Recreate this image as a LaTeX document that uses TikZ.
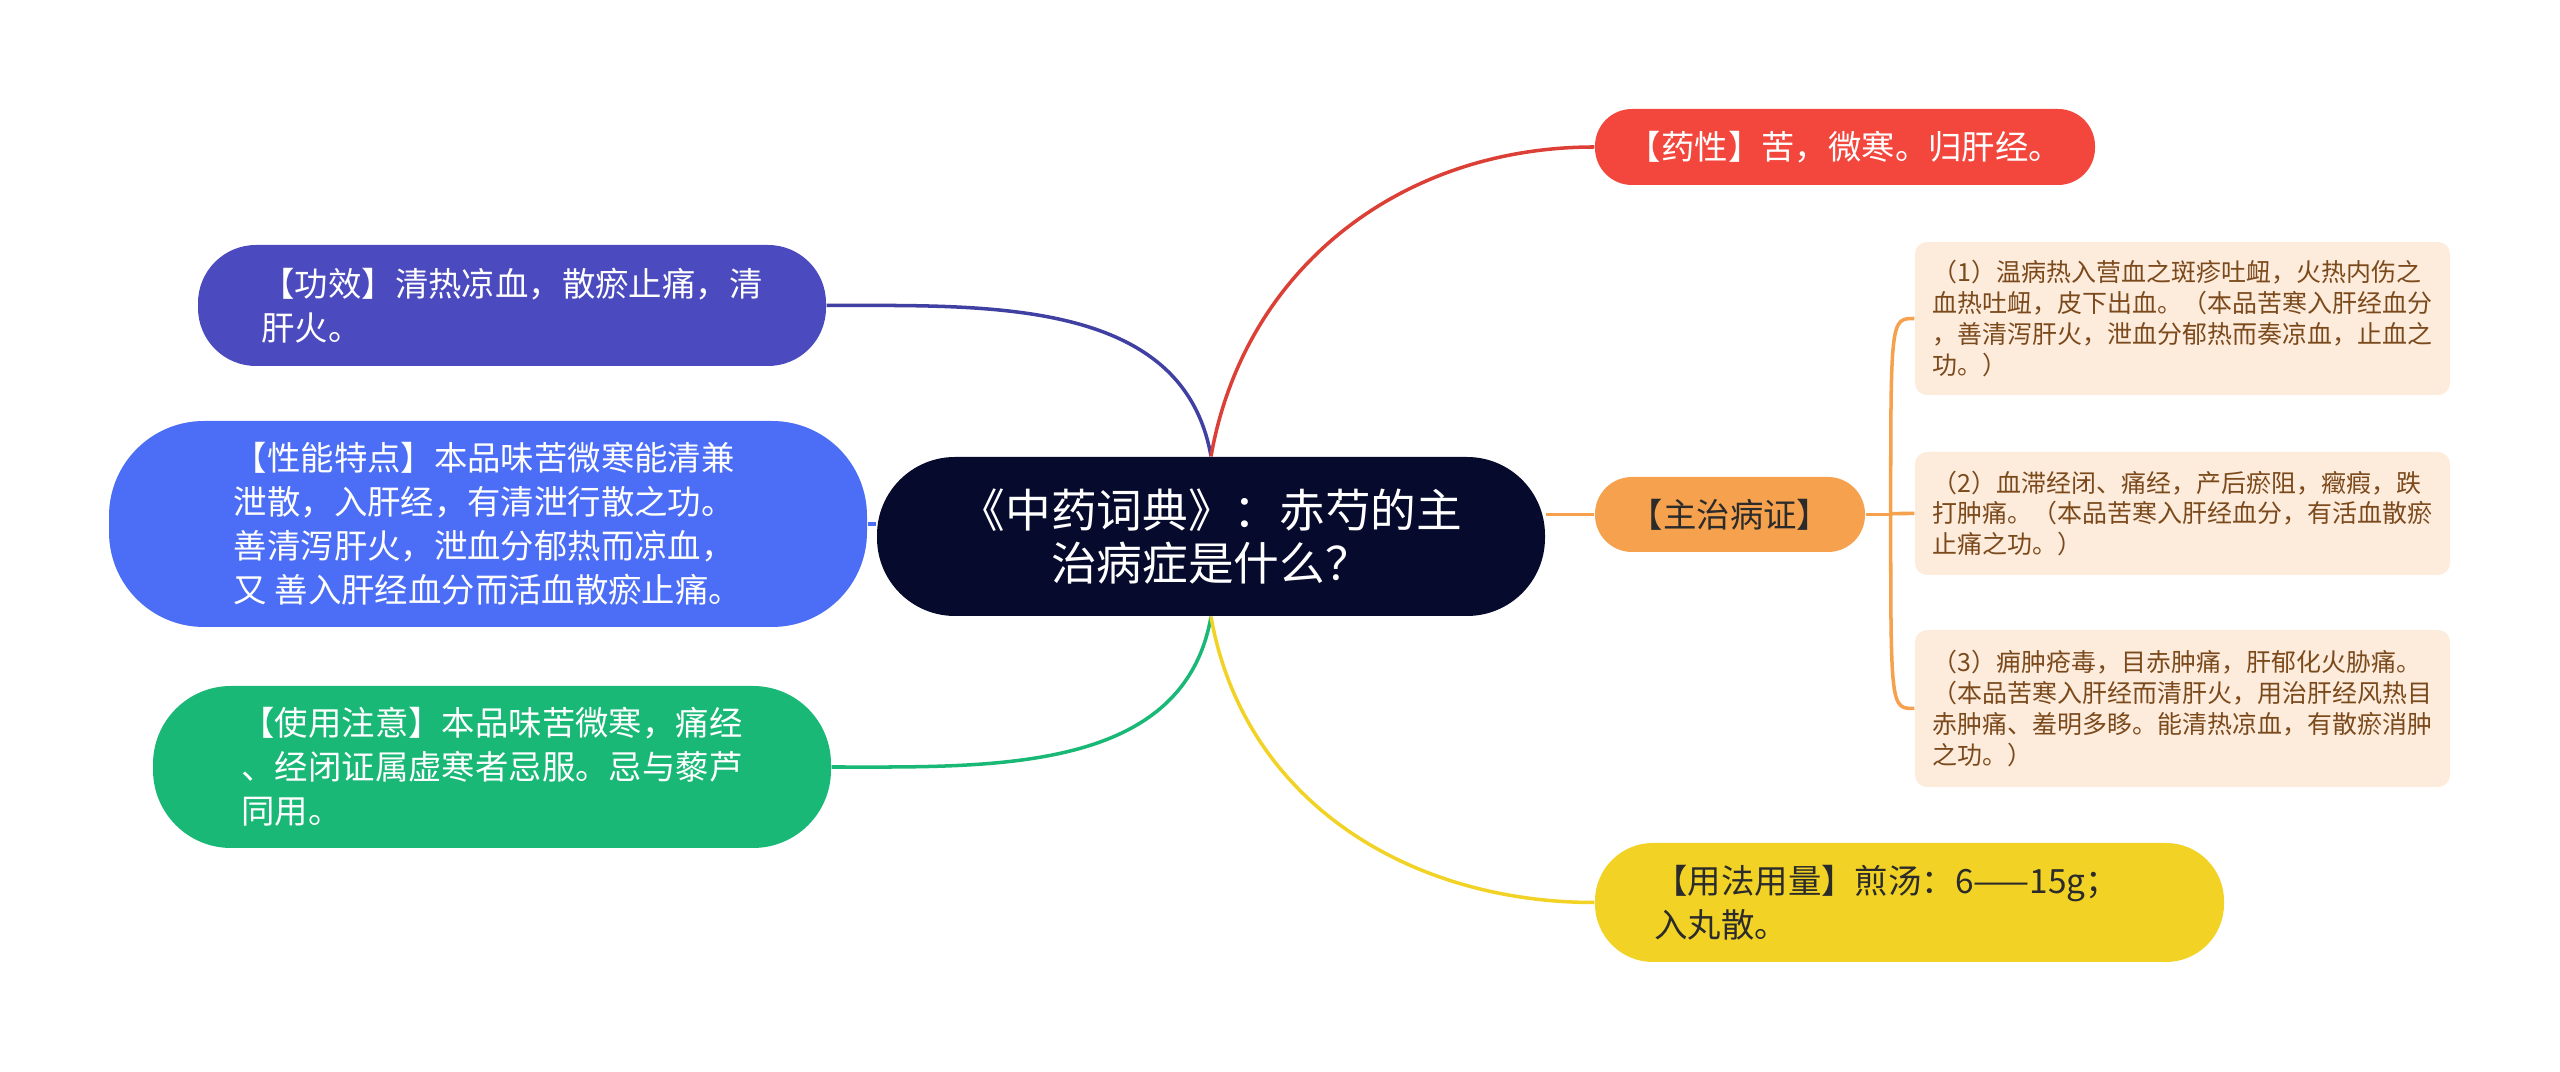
\documentclass[tikz,border=0pt]{standalone}
\usepackage{fontspec}
\setmainfont{Noto Sans CJK SC}
\usetikzlibrary{positioning}

\definecolor{rootbg}{HTML}{060A2C}
\definecolor{redbr}{HTML}{F3463C}
\definecolor{orangebr}{HTML}{F5A14D}
\definecolor{peach}{HTML}{FDEBDC}
\definecolor{browntx}{HTML}{7B4A1C}
\definecolor{yellowbr}{HTML}{F1D225}
\definecolor{indigobr}{HTML}{4B4ABF}
\definecolor{bluebr}{HTML}{4C6EF6}
\definecolor{greenbr}{HTML}{19B876}
\definecolor{darktx}{HTML}{2B2B2B}

\begin{document}
\begin{tikzpicture}[
  every node/.style={inner sep=0pt},
  branch/.style={align=left, font=\fontsize{9.5}{12.5}\selectfont},
  detail/.style={fill=peach, text=browntx, rounded corners=0.12cm, minimum width=5.35cm,
                 align=left, font=\fontsize{7.1}{8.8}\selectfont},
  link/.style={line width=1pt},
]
\useasboundingbox (0,0) rectangle (25.6,-10.72);

% Noeud central
\node[fill=rootbg, text=white, rounded corners=0.78cm, minimum width=6.68cm, minimum height=1.59cm,
      align=center, font=\fontsize{13}{15.1}\selectfont] (root) at (12.11,-5.365)
    {《中药词典》：赤芍的主\\治病症是什么？};

% Branches droites
\node[branch, fill=redbr, text=white, rounded corners=0.37cm, minimum width=5cm, minimum height=0.76cm]
    (yaoxing) at (18.45,-1.47) {【药性】苦，微寒。归肝经。};
\node[branch, fill=orangebr, text=darktx, rounded corners=0.37cm, minimum width=2.7cm, minimum height=0.75cm]
    (zhuzhi) at (17.30,-5.145) {【主治病证】};
\node[branch, fill=yellowbr, text=darktx, rounded corners=0.58cm, minimum width=6.29cm, minimum height=1.19cm,
      text width=5.1cm]
    (yongfa) at (19.095,-9.025) {【用法用量】煎汤：6——15g；\\入丸散。};

% Details du主治
\node[detail, minimum height=1.53cm] (zz1) at (21.825,-3.185)
    {（1）温病热入营血之斑疹吐衄，火热内伤之\\血热吐衄，皮下出血。（本品苦寒入肝经血分\\，善清泻肝火，泄血分郁热而奏凉血，止血之\\功。）};
\node[detail, minimum height=1.23cm] (zz2) at (21.825,-5.135)
    {（2）血滞经闭、痛经，产后瘀阻，癥瘕，跌\\打肿痛。（本品苦寒入肝经血分，有活血散瘀\\止痛之功。）};
\node[detail, minimum height=1.57cm] (zz3) at (21.825,-7.085)
    {（3）痈肿疮毒，目赤肿痛，肝郁化火胁痛。\\（本品苦寒入肝经而清肝火，用治肝经风热目\\赤肿痛、羞明多眵。能清热凉血，有散瘀消肿\\之功。）};

% Branches gauches
\node[branch, fill=indigobr, text=white, rounded corners=0.58cm, minimum width=6.28cm, minimum height=1.21cm]
    (gongxiao) at (5.12,-3.055) {【功效】清热凉血，散瘀止痛，清\\肝火。};
\node[branch, fill=bluebr, text=white, rounded corners=0.95cm, minimum width=7.58cm, minimum height=2.06cm]
    (xingneng) at (4.88,-5.24)
    {【性能特点】本品味苦微寒能清兼\\泄散，入肝经，有清泄行散之功。\\善清泻肝火，泄血分郁热而凉血，\\又 善入肝经血分而活血散瘀止痛。};
\node[branch, fill=greenbr, text=white, rounded corners=0.78cm, minimum width=6.78cm, minimum height=1.62cm]
    (shiyong) at (4.92,-7.67)
    {【使用注意】本品味苦微寒，痛经\\、经闭证属虚寒者忌服。忌与藜芦\\同用。};

% Liaisons
\draw[link, indigobr!85!black] (gongxiao.east) to[out=0, in=100] (root.north);
\draw[link, bluebr] (xingneng.east) -- (root.west |- xingneng.east);
\draw[link, greenbr] (shiyong.east) to[out=0, in=-100] (root.south);
\draw[link, redbr!90!black] (root.north) to[out=80, in=180] (yaoxing.west);
\draw[link, orangebr] (root.east |- zhuzhi.west) -- (zhuzhi.west);
\draw[link, yellowbr] (root.south) to[out=-80, in=180] (yongfa.west);

% Accolade
\coordinate[right=0.25cm of zhuzhi.east] (fork);
\draw[link, orangebr] (zhuzhi.east) -- (fork);
\foreach \d in {zz1, zz2, zz3}
  \draw[link, orangebr] (fork) .. controls (fork |- \d.west) .. (\d.west);

\end{tikzpicture}
\end{document}
